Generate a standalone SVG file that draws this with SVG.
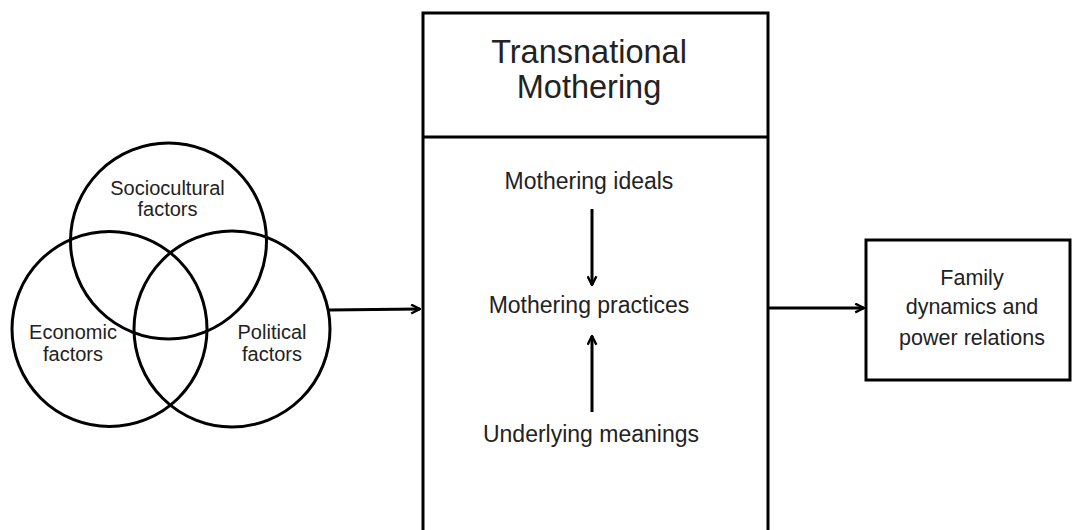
<svg xmlns="http://www.w3.org/2000/svg" width="1072" height="530" viewBox="0 0 1072 530">
<defs>
<marker id="ah" viewBox="0 0 10 10" refX="9" refY="5" markerWidth="11" markerHeight="11" markerUnits="userSpaceOnUse" orient="auto">
<path d="M1,1 L9,5 L1,9" fill="none" stroke="#000" stroke-width="2.2"/>
</marker>
<style>
.s{fill:none;stroke:#000;stroke-width:3}
.t{font-family:"Liberation Sans",Arial,sans-serif;fill:#222;text-anchor:middle}
.c{font-size:20px}
.m{font-size:23px}
.h{font-size:32.5px}
.r{font-size:21.5px}
.l{fill:none;stroke:#000;stroke-width:3;marker-end:url(#ah)}
</style>
</defs>
<rect width="1072" height="530" fill="#fff"/>
<g id="venn">
<circle class="s" cx="168.5" cy="241" r="98"/>
<circle class="s" cx="109.5" cy="329" r="97.5"/>
<circle class="s" cx="232" cy="329" r="98"/>
<text class="t c" x="167.5" y="195">Sociocultural</text>
<text class="t c" x="167.5" y="216">factors</text>
<text class="t c" x="73" y="339">Economic</text>
<text class="t c" x="73" y="361">factors</text>
<text class="t c" x="272" y="339">Political</text>
<text class="t c" x="272" y="361">factors</text>
</g>
<g id="transnational">
<rect class="s" x="423" y="13" width="345" height="530"/>
<line class="s" x1="423" y1="137" x2="768" y2="137"/>
<text class="t h" x="589" y="63">Transnational</text>
<text class="t h" x="589" y="98">Mothering</text>
<text class="t m" x="589" y="189">Mothering ideals</text>
<text class="t m" x="589" y="313">Mothering practices</text>
<text class="t m" x="591" y="442">Underlying meanings</text>
</g>
<g id="outcome">
<rect class="s" x="866" y="240" width="204" height="140"/>
<text class="t r" x="972" y="285">Family</text>
<text class="t r" x="972" y="314">dynamics and</text>
<text class="t r" x="972" y="345">power relations</text>
</g>
<g id="connectors">
<line class="l" x1="329" y1="310" x2="420" y2="309"/>
<line class="l" x1="768" y1="308" x2="864" y2="308"/>
<line class="l" x1="592" y1="209" x2="592" y2="285"/>
<line class="l" x1="592" y1="412" x2="592" y2="336"/>
</g>
</svg>
